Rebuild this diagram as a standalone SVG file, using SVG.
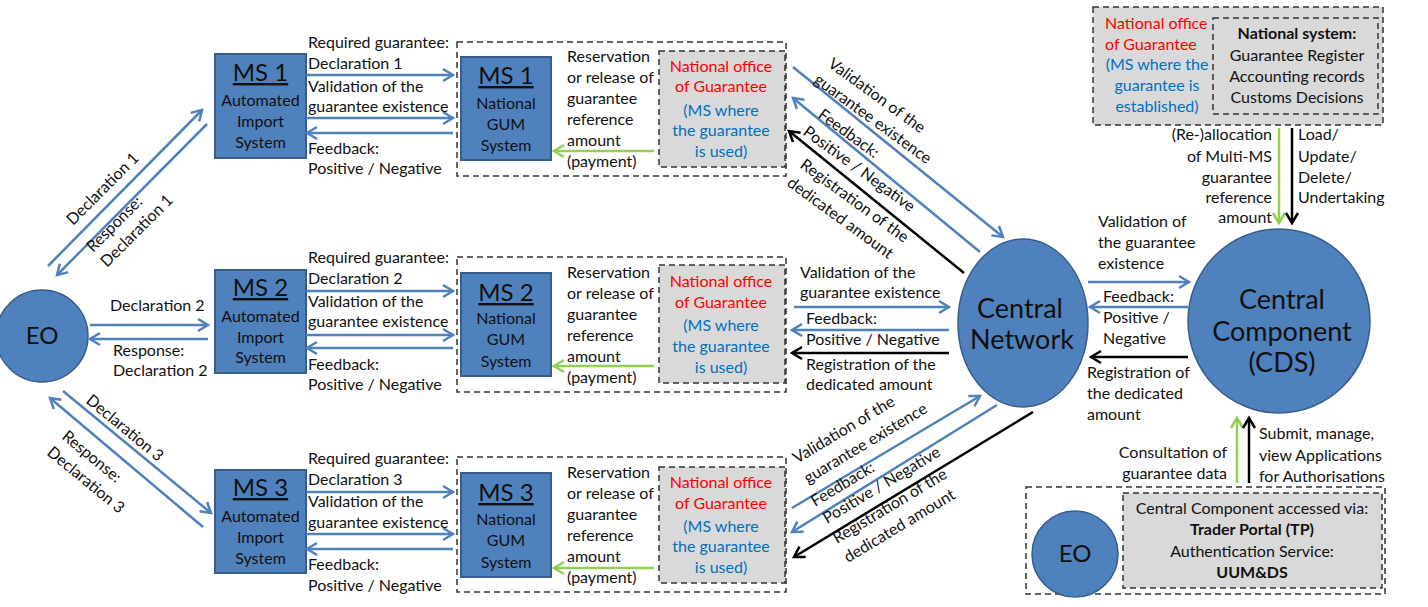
<svg xmlns="http://www.w3.org/2000/svg" width="1428" height="607" viewBox="0 0 1428 607">
<style>
text{font-family:Lato,"Open Sans","Liberation Sans",sans-serif;font-size:16px;fill:#111}
.c{text-anchor:middle}
.e{text-anchor:end}
.big{font-size:24px}
.huge{font-size:27px}
.b{font-weight:bold}
.red{fill:#ff0000}
.blu{fill:#0070c0}
.u{text-decoration:underline}
.box{fill:#4f81bd;stroke:#385d8a;stroke-width:2}
.node{fill:#4f81bd;stroke:#385d8a;stroke-width:1.5}
.dash{fill:none;stroke:#333;stroke-width:1.5;stroke-dasharray:6 4}
.gdash{fill:#d9d9d9;stroke:#333;stroke-width:1.5;stroke-dasharray:6 4}
.lb{stroke:#4f81bd;stroke-width:2.5;fill:none;marker-end:url(#mb)}
.lk{stroke:#000;stroke-width:2.5;fill:none;marker-end:url(#mk)}
.lg{stroke:#92d050;stroke-width:2.5;fill:none;marker-end:url(#mg)}
</style>
<defs>
<marker id="mb" markerUnits="userSpaceOnUse" markerWidth="16" markerHeight="16" refX="12" refY="8" orient="auto"><path d="M2,2 L12,8 L2,14" fill="none" stroke="#4f81bd" stroke-width="2.5"/></marker>
<marker id="mk" markerUnits="userSpaceOnUse" markerWidth="16" markerHeight="16" refX="12" refY="8" orient="auto"><path d="M2,2 L12,8 L2,14" fill="none" stroke="#000" stroke-width="2.5"/></marker>
<marker id="mg" markerUnits="userSpaceOnUse" markerWidth="16" markerHeight="16" refX="12" refY="8" orient="auto"><path d="M2,2 L12,8 L2,14" fill="none" stroke="#92d050" stroke-width="2.5"/></marker>
</defs>

<!-- Dashed group frames -->
<g id="frame1"><rect class="dash" x="457" y="42" width="329" height="134"/></g>
<g id="frame2"><rect class="dash" x="457" y="257" width="329" height="135"/></g>
<g id="frame3"><rect class="dash" x="457" y="457" width="329" height="135"/></g>

<g id="eo-left">
<ellipse class="node" cx="42" cy="336" rx="46" ry="46"/>
<text class="c big" x="42" y="344">EO</text>
</g>

<g id="ms1-ais">
<rect class="box" x="215" y="54" width="91" height="104"/>
<text class="c big u" x="260.5" y="81">MS 1</text>
<text class="c" x="260.5" y="106">Automated</text>
<text class="c" x="260.5" y="127">Import</text>
<text class="c" x="260.5" y="148">System</text>
</g>
<g id="ms2-ais">
<rect class="box" x="215" y="270" width="91" height="103"/>
<text class="c big u" x="260.5" y="296">MS 2</text>
<text class="c" x="260.5" y="322">Automated</text>
<text class="c" x="260.5" y="343">Import</text>
<text class="c" x="260.5" y="363">System</text>
</g>
<g id="ms3-ais">
<rect class="box" x="215" y="470" width="91" height="103"/>
<text class="c big u" x="260.5" y="496">MS 3</text>
<text class="c" x="260.5" y="522">Automated</text>
<text class="c" x="260.5" y="543">Import</text>
<text class="c" x="260.5" y="564">System</text>
</g>

<g id="ms1-gum">
<rect class="box" x="461" y="57" width="90" height="103"/>
<text class="c big u" x="506" y="84">MS 1</text>
<text class="c" x="506" y="109">National</text>
<text class="c" x="506" y="130">GUM</text>
<text class="c" x="506" y="151">System</text>
</g>
<g id="ms2-gum">
<rect class="box" x="461" y="273" width="90" height="103"/>
<text class="c big u" x="506" y="301">MS 2</text>
<text class="c" x="506" y="324">National</text>
<text class="c" x="506" y="345">GUM</text>
<text class="c" x="506" y="367">System</text>
</g>
<g id="ms3-gum">
<rect class="box" x="461" y="473" width="90" height="104"/>
<text class="c big u" x="506" y="501">MS 3</text>
<text class="c" x="506" y="525">National</text>
<text class="c" x="506" y="546">GUM</text>
<text class="c" x="506" y="568">System</text>
</g>

<g id="office1">
<rect class="gdash" x="659" y="51" width="126" height="116"/>
<text class="c red" x="721" y="72">National office</text>
<text class="c red" x="721" y="92">of Guarantee</text>
<text class="c blu" x="721" y="116">(MS where</text>
<text class="c blu" x="721" y="136">the guarantee</text>
<text class="c blu" x="721" y="157">is used)</text>
</g>
<g id="office2">
<rect class="gdash" x="659" y="265" width="126" height="118"/>
<text class="c red" x="721" y="287">National office</text>
<text class="c red" x="721" y="308">of Guarantee</text>
<text class="c blu" x="721" y="331">(MS where</text>
<text class="c blu" x="721" y="352">the guarantee</text>
<text class="c blu" x="721" y="373">is used)</text>
</g>
<g id="office3">
<rect class="gdash" x="659" y="467" width="126" height="116"/>
<text class="c red" x="721" y="488">National office</text>
<text class="c red" x="721" y="509">of Guarantee</text>
<text class="c blu" x="721" y="532">(MS where</text>
<text class="c blu" x="721" y="552">the guarantee</text>
<text class="c blu" x="721" y="573">is used)</text>
</g>

<g id="central-network">
<ellipse class="node" cx="1023" cy="323" rx="65" ry="84"/>
<text class="c huge" x="1020" y="318">Central</text>
<text class="c huge" x="1022" y="349">Network</text>
</g>

<g id="central-component">
<ellipse class="node" cx="1279" cy="321" rx="91" ry="92"/>
<text class="c huge" x="1282" y="309">Central</text>
<text class="c huge" x="1282" y="341">Component</text>
<text class="c huge" x="1282" y="372">(CDS)</text>
</g>

<g id="national-system">
<rect class="gdash" x="1093" y="7" width="290" height="118"/>
<rect class="dash" x="1213" y="18" width="165" height="96"/>
<text class="red" x="1105" y="29">National office</text>
<text class="red" x="1105" y="50">of Guarantee</text>
<text class="c blu" x="1157" y="70">(MS where the</text>
<text class="c blu" x="1157" y="91">guarantee is</text>
<text class="c blu" x="1157" y="112">established)</text>
<text class="c b" x="1297" y="39">National system:</text>
<text class="c" x="1297" y="61">Guarantee Register</text>
<text class="c" x="1297" y="82">Accounting records</text>
<text class="c" x="1297" y="103">Customs Decisions</text>
</g>

<g id="trader-portal">
<rect class="dash" x="1026" y="487" width="359" height="107"/>
<rect class="gdash" x="1123" y="493" width="259" height="95"/>
<ellipse class="node" cx="1075" cy="554" rx="43" ry="43"/>
<text class="c big" x="1075" y="562">EO</text>
<text class="c" x="1252" y="514">Central Component accessed via:</text>
<text class="c b" x="1252" y="535">Trader Portal (TP)</text>
<text class="c" x="1252" y="557">Authentication Service:</text>
<text class="c b" x="1252" y="578">UUM&amp;DS</text>
</g>

<g id="connectors">
<line class="lb" x1="48" y1="266" x2="202" y2="110"/>
<line class="lb" x1="207" y1="124" x2="57" y2="275"/>
<line class="lb" x1="90" y1="325" x2="208" y2="325"/>
<line class="lb" x1="208" y1="339" x2="90" y2="339"/>
<line class="lb" x1="63" y1="391" x2="211" y2="513"/>
<line class="lb" x1="203" y1="527" x2="50" y2="398"/>

<line class="lb" x1="306" y1="75" x2="453" y2="75"/>
<line class="lb" x1="306" y1="118" x2="453" y2="118"/>
<line class="lb" x1="453" y1="133" x2="307" y2="133"/>
<line class="lb" x1="306" y1="291" x2="453" y2="291"/>
<line class="lb" x1="306" y1="335" x2="453" y2="335"/>
<line class="lb" x1="453" y1="348" x2="307" y2="348"/>
<line class="lb" x1="306" y1="492" x2="453" y2="492"/>
<line class="lb" x1="306" y1="534" x2="453" y2="534"/>
<line class="lb" x1="453" y1="549" x2="307" y2="549"/>

<line class="lg" x1="654" y1="151" x2="554" y2="151"/>
<line class="lg" x1="654" y1="366" x2="554" y2="366"/>
<line class="lg" x1="654" y1="568" x2="554" y2="568"/>

<line class="lb" x1="793" y1="67" x2="1003" y2="237"/>
<line class="lb" x1="980" y1="252" x2="793" y2="98"/>
<line class="lk" x1="964" y1="273" x2="789" y2="131"/>

<line class="lb" x1="794" y1="307" x2="949" y2="307"/>
<line class="lb" x1="949" y1="330" x2="792" y2="330"/>
<line class="lk" x1="949" y1="353" x2="792" y2="353"/>

<line class="lb" x1="792" y1="508" x2="980" y2="396"/>
<line class="lb" x1="997" y1="405" x2="792" y2="532"/>
<line class="lk" x1="1033" y1="412" x2="794" y2="557"/>

<line class="lb" x1="1088" y1="282" x2="1189" y2="282"/>
<line class="lb" x1="1188" y1="307" x2="1090" y2="307"/>
<line class="lk" x1="1188" y1="357" x2="1091" y2="357"/>

<line class="lg" x1="1279" y1="128" x2="1279" y2="223"/>
<line class="lk" x1="1292" y1="128" x2="1292" y2="223"/>
<line class="lg" x1="1237" y1="483" x2="1237" y2="418"/>
<line class="lk" x1="1249" y1="483" x2="1249" y2="418"/>
</g>

<g id="labels">
<text transform="translate(73,226) rotate(-45)">Declaration 1</text>
<text transform="translate(93,253) rotate(-45)">Response:</text>
<text transform="translate(107,268) rotate(-45)">Declaration 1</text>
<text x="110" y="311">Declaration 2</text>
<text x="113" y="356">Response:</text>
<text x="113" y="376">Declaration 2</text>
<text transform="translate(85,402) rotate(39.5)">Declaration 3</text>
<text transform="translate(61,438) rotate(39.5)">Response:</text>
<text transform="translate(46,454) rotate(39.5)">Declaration 3</text>

<text x="308" y="48">Required guarantee:</text>
<text x="308" y="69">Declaration 1</text>
<text x="308" y="92">Validation of the</text>
<text x="308" y="112">guarantee existence</text>
<text x="308" y="154">Feedback:</text>
<text x="308" y="174">Positive / Negative</text>
<text x="308" y="263">Required guarantee:</text>
<text x="308" y="284">Declaration 2</text>
<text x="308" y="307">Validation of the</text>
<text x="308" y="327">guarantee existence</text>
<text x="308" y="370">Feedback:</text>
<text x="308" y="390">Positive / Negative</text>
<text x="308" y="464">Required guarantee:</text>
<text x="308" y="485">Declaration 3</text>
<text x="308" y="507">Validation of the</text>
<text x="308" y="528">guarantee existence</text>
<text x="308" y="570">Feedback:</text>
<text x="308" y="591">Positive / Negative</text>

<text x="567" y="62">Reservation</text>
<text x="567" y="83">or release of</text>
<text x="567" y="104">guarantee</text>
<text x="567" y="125">reference</text>
<text x="567" y="146">amount</text>
<text x="567" y="167">(payment)</text>
<text x="567" y="278">Reservation</text>
<text x="567" y="299">or release of</text>
<text x="567" y="320">guarantee</text>
<text x="567" y="341">reference</text>
<text x="567" y="362">amount</text>
<text x="567" y="383">(payment)</text>
<text x="567" y="478">Reservation</text>
<text x="567" y="499">or release of</text>
<text x="567" y="520">guarantee</text>
<text x="567" y="541">reference</text>
<text x="567" y="562">amount</text>
<text x="567" y="583">(payment)</text>

<text transform="translate(827,66) rotate(36)">Validation of the</text>
<text transform="translate(813,82) rotate(36)">guarantee existence</text>
<text transform="translate(817,117) rotate(36)">Feedback:</text>
<text transform="translate(802,134) rotate(36)">Positive / Negative</text>
<text transform="translate(799,167) rotate(36)">Registration of the</text>
<text transform="translate(786,185) rotate(36)">dedicated amount</text>

<text x="800" y="278">Validation of the</text>
<text x="800" y="298">guarantee existence</text>
<text x="806" y="324">Feedback:</text>
<text x="806" y="345">Positive / Negative</text>
<text x="806" y="370">Registration of the</text>
<text x="806" y="390">dedicated amount</text>

<text transform="translate(797,464) rotate(-31)">Validation of the</text>
<text transform="translate(808,484) rotate(-31)">guarantee existence</text>
<text transform="translate(815,507) rotate(-31)">Feedback:</text>
<text transform="translate(827,524) rotate(-31)">Positive / Negative</text>
<text transform="translate(837,544) rotate(-31)">Registration of the</text>
<text transform="translate(848,563) rotate(-31)">dedicated amount</text>

<text x="1098" y="227">Validation of</text>
<text x="1098" y="248">the guarantee</text>
<text x="1098" y="269">existence</text>
<text x="1103" y="302">Feedback:</text>
<text x="1103" y="323">Positive /</text>
<text x="1103" y="344">Negative</text>
<text x="1087" y="378">Registration of</text>
<text x="1087" y="399">the dedicated</text>
<text x="1087" y="420">amount</text>

<text class="e" x="1272" y="140">(Re-)allocation</text>
<text class="e" x="1272" y="162">of Multi-MS</text>
<text class="e" x="1272" y="183">guarantee</text>
<text class="e" x="1272" y="203">reference</text>
<text class="e" x="1272" y="223">amount</text>
<text x="1298" y="140">Load/</text>
<text x="1298" y="162">Update/</text>
<text x="1298" y="183">Delete/</text>
<text x="1298" y="203">Undertaking</text>

<text class="e" x="1227" y="458">Consultation of</text>
<text class="e" x="1227" y="479">guarantee data</text>
<text x="1259" y="439">Submit, manage,</text>
<text x="1259" y="461">view Applications</text>
<text x="1259" y="482">for Authorisations</text>
</g>
</svg>
